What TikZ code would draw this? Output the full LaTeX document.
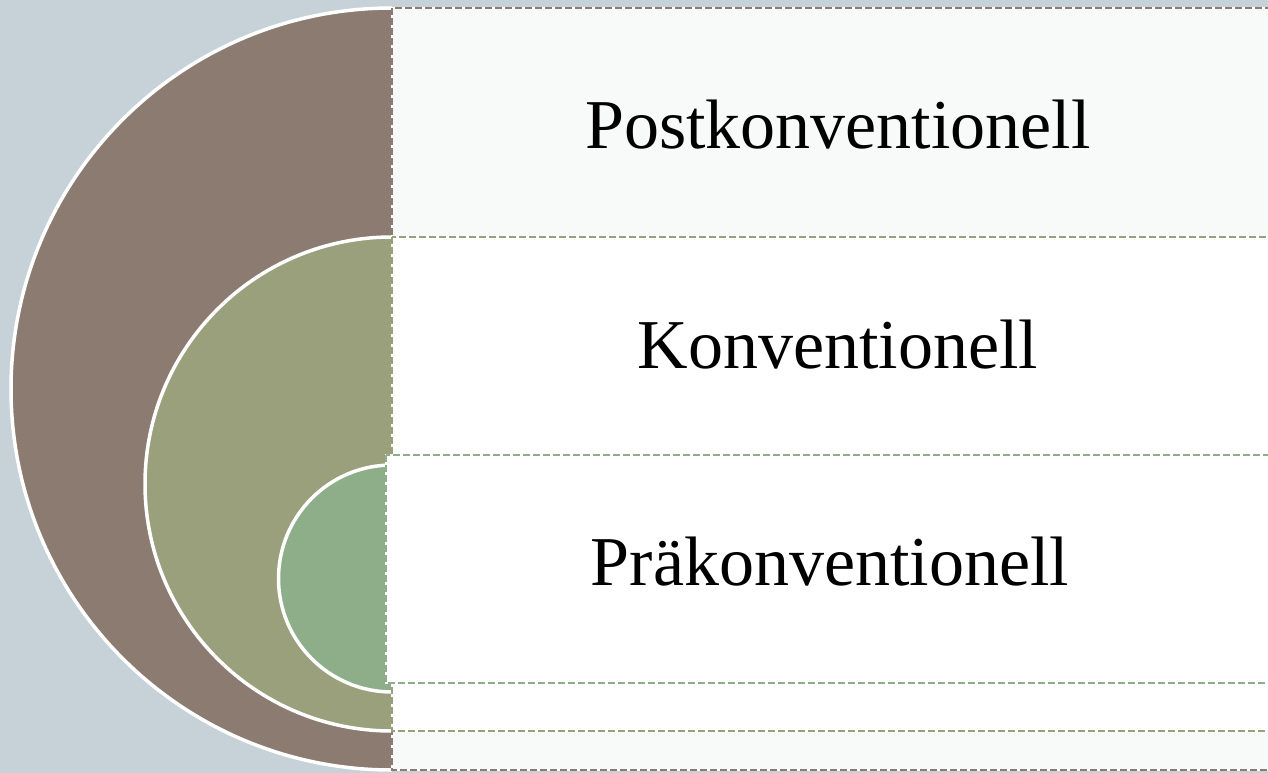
\documentclass[tikz,border=0pt]{standalone}
\usepackage{fontspec}
\setmainfont{Liberation Serif}
\definecolor{bg}{RGB}{198,210,216}
\definecolor{cbrown}{RGB}{139,123,112}
\definecolor{colive}{RGB}{154,159,124}
\definecolor{cgreen}{RGB}{142,174,137}
\definecolor{pale}{RGB}{248,250,249}
\begin{document}
\begin{tikzpicture}[x=1pt,y=-1pt,
  half/.style={draw=white,line width=3.5pt},
  box/.style={draw=white,line width=2.5pt},
  dashb/.style={line width=2.5pt,dash pattern=on 7pt off 3pt},
  lbl/.style={font=\fontsize{70}{84}\selectfont,anchor=base,inner sep=0pt}]
\useasboundingbox[fill=bg] (0,0) rectangle (1268,773);
% half circles
\fill[fill=cbrown] (392,8) arc[start angle=270,end angle=90,radius=381] -- cycle;
\draw[half] (392,8) arc[start angle=270,end angle=90,radius=381];
\fill[fill=colive] (392,237) arc[start angle=270,end angle=90,radius=247] -- cycle;
\draw[half] (392,237) arc[start angle=270,end angle=90,radius=247];
\fill[fill=cgreen] (392,465) arc[start angle=270,end angle=90,radius=113.5] -- cycle;
\draw[half] (392,465) arc[start angle=270,end angle=90,radius=113.5];
% boxes
\filldraw[box,fill=pale] (392,8) rectangle (1275,770);
\draw[dashb,cbrown] (392,8) rectangle (1275,770);
\filldraw[box,fill=white] (392,237) rectangle (1275,731);
\draw[dashb,colive] (392,237) rectangle (1275,731);
\filldraw[box,fill=white] (386,455) rectangle (1275,683);
\draw[dashb,cgreen] (386,455) rectangle (1275,683);
% labels
\node[lbl] (post) at (838,148) {Postkonventionell};
\node[lbl] (konv) at (838,368) {Konventionell};
\node[lbl] (prae) at (830,585) {Präkonventionell};
\end{tikzpicture}
\end{document}
